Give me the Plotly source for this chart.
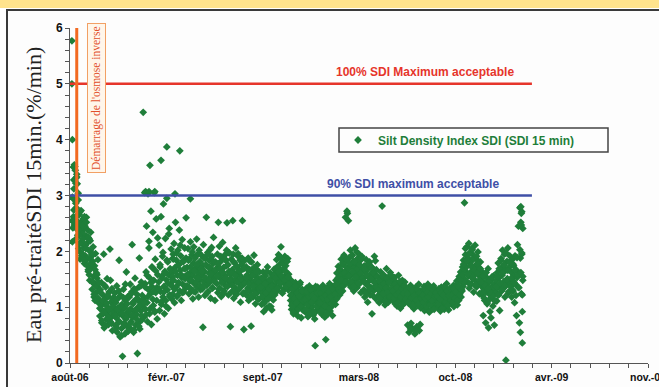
import pandas as pd
import plotly.graph_objects as go

# ---------------- data ----------------
# daily readings, one per day from each month's start date
sdi_2006_08 = [2.95, 2.62, 3.28, 2.47, 3.52, 2.21, 3.31, 2.78, 2.55, 3.21, 2.38, 2.92, 2.05, 2.66, 2.44,
               1.86, 2.51, 2.73, 2.18, 2.35, 1.95, 2.58, 2.12, 2.41, 1.78]
sdi_2006_09 = [2.45, 1.92, 2.28, 2.61, 1.75, 2.15, 2.38, 1.64, 2.02, 2.22, 1.48, 1.88, 2.34, 1.71, 1.95,
               1.32, 1.82, 2.08, 1.55, 1.18, 1.74, 1.42, 1.96, 1.26, 1.61, 1.13, 1.37, 1.85, 1.08, 1.29]
sdi_2006_10 = [1.12, 0.84, 1.31, 0.97, 1.44, 0.72, 1.05, 1.22, 0.88, 1.95, 0.63, 1.14, 0.93, 1.36, 0.78,
               1.02, 1.51, 0.86, 1.19, 0.69, 1.27, 0.95, 2.04, 0.74, 1.09, 0.82, 1.33, 0.58, 1.01, 1.17]
sdi_2006_11 = [0.92, 1.25, 0.67, 1.08, 0.81, 1.38, 0.55, 0.98, 1.16, 0.73, 1.84, 0.88, 0.47, 1.21, 0.94,
               0.62, 1.05, 0.12, 0.84, 1.32, 0.71, 0.99, 0.52, 1.12, 0.79, 1.63, 0.66, 0.91, 1.19, 0.58]
sdi_2006_12 = [0.86, 1.18, 0.63, 1.41, 0.97, 0.74, 1.27, 2.12, 0.82, 1.06, 0.55, 1.33, 0.91, 1.52, 0.68,
               1.14, 0.87, 1.23, 0.17, 0.99, 0.72, 1.36, 1.88, 0.61, 1.08, 0.93, 1.45, 0.77, 1.21, 1.02]
sdi_2007_01 = [1.15, 0.82, 3.05, 1.42, 0.96, 1.63, 2.45, 1.08, 0.74, 3.03, 1.31, 2.18, 0.88, 1.52, 1.24,
               2.72, 0.69, 1.37, 1.71, 2.34, 1.03, 1.48, 3.05, 0.91, 1.86, 1.26, 2.58, 1.12, 0.79, 1.58]
sdi_2007_02 = [1.45, 2.11, 0.94, 1.72, 1.28, 2.62, 1.05, 1.56, 1.91, 1.18, 2.85, 1.37, 0.88, 1.64, 2.23,
               1.12, 1.49, 2.95, 1.31, 1.81, 0.98, 1.58, 2.41, 1.22, 1.69, 1.41, 2.04, 1.15, 1.53, 1.87]
sdi_2007_03 = [1.62, 1.23, 1.95, 1.48, 2.14, 1.08, 1.71, 2.52, 1.36, 1.84, 1.19, 1.57, 2.02, 1.44, 1.77,
               2.38, 1.29, 1.66, 1.92, 1.12, 1.53, 2.21, 1.41, 1.83, 1.27, 1.69, 2.06, 1.51, 1.34, 1.88]
sdi_2007_04 = [1.71, 1.38, 2.05, 1.55, 1.24, 1.86, 1.47, 2.17, 1.63, 1.32, 1.94, 1.58, 1.15, 1.79, 2.08,
               1.42, 1.68, 1.27, 1.91, 1.53, 2.22, 1.36, 1.74, 1.61, 1.18, 1.97, 1.49, 1.82, 1.31, 1.66]
sdi_2007_05 = [1.58, 1.92, 1.33, 1.75, 2.12, 1.46, 1.64, 1.21, 1.87, 1.52, 2.61, 1.39, 1.73, 1.98, 1.28,
               1.61, 1.84, 1.44, 2.03, 1.16, 1.69, 1.55, 1.91, 1.35, 1.78, 2.25, 1.49, 1.63, 1.12, 1.81]
sdi_2007_06 = [1.67, 1.42, 1.95, 1.26, 1.73, 1.58, 2.09, 1.34, 1.81, 1.51, 1.19, 1.88, 1.62, 2.16, 1.45,
               1.71, 1.29, 1.93, 1.56, 1.38, 1.84, 2.02, 2.51, 1.48, 1.76, 1.22, 1.64, 1.97, 1.41, 1.59]
sdi_2007_07 = [1.52, 1.86, 1.28, 1.67, 1.44, 1.95, 1.16, 1.61, 1.79, 1.35, 2.06, 1.49, 1.23, 1.72, 1.58,
               1.91, 1.31, 1.65, 1.42, 1.84, 1.09, 1.55, 1.76, 1.38, 2.55, 1.47, 1.69, 1.26, 1.83, 1.51]
sdi_2007_08 = [1.46, 1.72, 1.21, 1.58, 1.34, 1.88, 1.12, 1.49, 1.67, 1.28, 1.54, 0.66, 1.81, 1.39, 1.62,
               1.18, 1.45, 1.93, 1.31, 1.57, 1.06, 1.69, 1.42, 1.25, 1.76, 1.36, 1.51, 1.14, 1.63, 1.32]
sdi_2007_09 = [1.28, 1.52, 1.05, 1.41, 1.19, 1.63, 0.92, 1.34, 1.47, 1.11, 1.56, 1.24, 0.98, 1.39, 1.72,
               1.16, 1.31, 1.48, 1.02, 1.27, 1.61, 1.21, 1.43, 0.95, 1.35, 1.54, 1.13, 1.29, 1.68, 1.22]
sdi_2007_10 = [1.38, 1.62, 1.47, 1.85, 1.29, 1.71, 1.53, 1.94, 1.36, 1.58, 1.77, 1.42, 2.08, 1.51, 1.66,
               1.25, 1.82, 1.45, 1.69, 1.33, 1.91, 1.56, 1.74, 1.39, 1.61, 1.48, 1.87, 1.31, 1.59, 1.43]
sdi_2007_11 = [1.35, 1.12, 1.48, 0.96, 1.24, 1.07, 1.39, 0.88, 1.18, 1.31, 1.02, 1.44, 0.92, 1.21, 1.09,
               1.36, 0.84, 1.15, 1.27, 0.99, 1.41, 1.05, 1.23, 0.81, 1.13, 1.32, 0.95, 1.19, 1.06, 1.28]
sdi_2007_12 = [1.08, 1.26, 0.91, 1.17, 1.34, 0.97, 1.12, 0.83, 1.22, 1.04, 1.38, 0.89, 1.15, 1.29, 0.94,
               1.19, 1.01, 1.33, 0.86, 1.11, 1.24, 0.79, 0.31, 1.09, 1.27, 0.93, 1.16, 1.36, 0.98, 1.21]
sdi_2008_01 = [1.14, 0.92, 1.31, 1.03, 1.22, 0.87, 1.18, 1.39, 0.96, 1.11, 1.27, 0.82, 1.07, 0.42, 1.24,
               0.99, 1.35, 1.13, 0.88, 1.19, 1.05, 1.42, 0.93, 1.16, 1.29, 1.01, 1.21, 0.85, 1.37, 1.09]
sdi_2008_02 = [1.12, 1.34, 1.05, 1.48, 1.26, 1.61, 1.19, 1.41, 1.73, 1.31, 1.55, 1.22, 1.67, 1.44, 1.86,
               1.37, 1.58, 1.29, 1.76, 1.51, 1.93, 1.42, 1.64, 2.61, 1.83, 1.47, 1.71, 2.68, 1.56]
sdi_2008_03 = [1.68, 1.42, 1.89, 1.55, 2.02, 1.36, 1.74, 1.61, 1.93, 1.47, 1.82, 1.29, 1.71, 1.58, 2.06,
               1.44, 1.79, 1.63, 1.35, 1.87, 1.52, 1.96, 1.41, 1.73, 1.59, 1.84, 1.26, 1.67, 1.91, 1.49]
sdi_2008_04 = [1.52, 1.31, 1.74, 1.18, 1.63, 1.42, 1.85, 1.27, 1.56, 1.09, 1.69, 1.38, 1.47, 1.81, 1.22,
               1.59, 1.35, 1.72, 0.88, 1.49, 1.64, 1.29, 1.53, 1.91, 1.37, 1.58, 1.15, 1.67, 1.43, 1.33]
sdi_2008_05 = [1.36, 1.21, 1.52, 1.08, 1.44, 1.29, 1.63, 1.17, 1.39, 2.81, 1.25, 1.48, 1.12, 1.57, 1.33,
               1.04, 1.41, 1.26, 1.69, 1.19, 1.35, 1.51, 1.09, 1.28, 1.45, 1.15, 1.62, 1.31, 1.22, 1.47]
sdi_2008_06 = [1.24, 1.39, 1.11, 1.32, 1.53, 1.06, 1.27, 1.18, 1.44, 1.02, 1.35, 1.21, 1.57, 1.13, 1.29,
               1.42, 0.98, 1.23, 1.36, 1.14, 1.48, 1.26, 1.07, 1.31, 1.19, 1.45, 1.09, 1.34, 1.22, 1.16]
sdi_2008_07 = [1.18, 0.68, 1.31, 1.07, 0.55, 1.24, 1.12, 1.39, 0.71, 1.02, 1.27, 0.62, 1.15, 1.33, 0.97,
               1.21, 0.52, 1.09, 1.36, 1.14, 0.65, 1.26, 1.03, 1.19, 1.41, 0.58, 1.11, 1.29, 0.99, 1.22]
sdi_2008_08 = [1.16, 1.28, 1.03, 1.21, 1.37, 0.94, 1.12, 1.25, 1.07, 1.32, 0.98, 1.19, 1.41, 1.09, 1.23,
               0.91, 1.14, 1.29, 1.05, 1.35, 1.17, 0.97, 1.26, 1.11, 1.38, 1.01, 1.22, 1.13, 1.31, 1.06]
sdi_2008_09 = [1.12, 1.27, 0.99, 1.18, 1.33, 1.04, 1.21, 0.93, 1.15, 1.36, 1.08, 1.24, 1.02, 1.29, 1.11,
               0.96, 1.19, 1.34, 1.07, 1.23, 1.42, 1.01, 1.16, 1.28, 0.95, 1.13, 1.31, 1.09, 1.25, 1.18]
sdi_2008_10 = [1.14, 1.31, 1.06, 1.22, 1.39, 1.01, 1.17, 1.28, 1.09, 1.35, 1.19, 1.47, 1.04, 1.26, 1.38,
               1.12, 1.55, 1.24, 1.33, 1.63, 1.18, 1.45, 1.29, 1.72, 1.37, 1.84, 1.51, 2.87, 1.66, 1.94]
sdi_2008_11 = [1.72, 2.08, 1.45, 1.88, 1.56, 2.14, 1.34, 1.79, 1.62, 1.97, 1.41, 1.83, 2.03, 1.51, 1.69,
               1.27, 1.92, 1.58, 2.11, 1.47, 1.76, 1.36, 1.85, 1.64, 1.99, 1.43, 1.71, 1.24, 1.55, 1.81]
sdi_2008_12 = [1.52, 1.38, 1.64, 1.21, 1.47, 0.85, 1.33, 1.58, 1.12, 1.41, 0.72, 1.27, 1.53, 1.06, 1.36,
               1.69, 0.63, 1.24, 1.45, 1.15, 1.31, 0.81, 1.49, 1.18, 1.37, 1.02, 1.56, 1.29, 0.68, 1.42]
sdi_2009_01 = [1.26, 1.48, 1.11, 1.62, 1.35, 1.79, 1.22, 1.53, 0.94, 1.68, 1.41, 1.87, 1.29, 1.57, 2.02,
               1.33, 1.74, 1.46, 1.95, 1.18, 1.66, 0.05, 1.39, 1.82, 1.51, 2.06, 1.25, 1.71, 1.44, 1.92]
sdi_2009_02 = [1.37, 1.63, 1.18, 1.85, 1.47, 1.29, 1.74, 1.56, 1.08, 1.92, 1.41, 1.67, 0.85, 1.53, 2.12,
               1.36, 2.45, 1.61, 0.72, 2.78, 1.88, 2.52, 1.24, 2.71, 0.36, 1.48]

monthly_series = [
    ("2006-08-07", sdi_2006_08), ("2006-09-01", sdi_2006_09), ("2006-10-01", sdi_2006_10),
    ("2006-11-01", sdi_2006_11), ("2006-12-01", sdi_2006_12), ("2007-01-01", sdi_2007_01),
    ("2007-02-01", sdi_2007_02), ("2007-03-01", sdi_2007_03), ("2007-04-01", sdi_2007_04),
    ("2007-05-01", sdi_2007_05), ("2007-06-01", sdi_2007_06), ("2007-07-01", sdi_2007_07),
    ("2007-08-01", sdi_2007_08), ("2007-09-01", sdi_2007_09), ("2007-10-01", sdi_2007_10),
    ("2007-11-01", sdi_2007_11), ("2007-12-01", sdi_2007_12), ("2008-01-01", sdi_2008_01),
    ("2008-02-01", sdi_2008_02), ("2008-03-01", sdi_2008_03), ("2008-04-01", sdi_2008_04),
    ("2008-05-01", sdi_2008_05), ("2008-06-01", sdi_2008_06), ("2008-07-01", sdi_2008_07),
    ("2008-08-01", sdi_2008_08), ("2008-09-01", sdi_2008_09), ("2008-10-01", sdi_2008_10),
    ("2008-11-01", sdi_2008_11), ("2008-12-01", sdi_2008_12), ("2009-01-01", sdi_2009_01),
    ("2009-02-01", sdi_2009_02),
]

# second reading, every other day (day 2i+1 of each month)
sdi2_2006_08 = [3.12, 2.58, 2.86, 3.38, 2.29, 2.67, 2.14, 2.49, 1.92, 2.31, 2.06, 2.62]
sdi2_2006_09 = [2.11, 2.52, 1.86, 2.25, 1.58, 2.01, 1.79, 1.46, 1.94, 1.23, 1.67, 1.38, 1.52, 1.16, 1.44]
sdi2_2006_10 = [0.98, 1.26, 0.76, 1.11, 0.91, 1.39, 0.67, 1.07, 1.22, 0.81, 0.95, 1.48, 0.71, 1.15, 0.89]
sdi2_2006_11 = [0.85, 1.14, 0.63, 0.96, 1.29, 0.74, 1.02, 0.49, 0.88, 1.17, 0.69, 1.41, 0.82, 1.06, 0.57]
sdi2_2006_12 = [0.94, 0.71, 1.24, 0.85, 1.09, 0.59, 1.31, 0.96, 0.78, 1.15, 0.66, 1.03, 1.38, 0.84, 1.12]
sdi2_2007_01 = [1.08, 1.36, 0.87, 1.57, 1.19, 2.06, 0.97, 1.44, 1.72, 1.14, 1.28, 0.93, 1.65, 1.35, 2.24]
sdi2_2007_02 = [1.33, 1.76, 1.09, 1.52, 1.98, 1.27, 1.61, 1.02, 1.84, 1.43, 2.31, 1.19, 1.67, 1.38, 1.55]
sdi2_2007_03 = [1.49, 1.86, 1.32, 1.64, 1.97, 1.21, 1.75, 1.43, 2.11, 1.58, 1.26, 1.81, 1.54, 1.69, 1.38]
sdi2_2007_04 = [1.59, 1.84, 1.35, 1.72, 1.48, 1.99, 1.29, 1.65, 1.88, 1.44, 1.77, 1.52, 2.02, 1.39, 1.69]
sdi2_2007_05 = [1.64, 1.37, 1.89, 1.53, 1.76, 1.25, 1.95, 1.48, 1.71, 1.59, 2.07, 1.34, 1.82, 1.46, 1.67]
sdi2_2007_06 = [1.55, 1.78, 1.32, 1.69, 1.91, 1.44, 1.63, 1.25, 1.86, 1.52, 1.74, 1.37, 1.98, 1.61, 1.47]
sdi2_2007_07 = [1.61, 1.39, 1.82, 1.27, 1.57, 1.73, 1.45, 1.96, 1.33, 1.64, 1.51, 1.88, 1.24, 1.69, 1.43]
sdi2_2007_08 = [1.53, 1.29, 1.66, 1.41, 1.82, 1.19, 1.56, 1.37, 1.71, 1.24, 1.48, 1.63, 1.15, 1.44, 1.35]
sdi2_2007_09 = [1.36, 1.19, 1.51, 1.07, 1.42, 1.26, 1.64, 1.14, 1.33, 1.49, 1.01, 1.38, 1.23, 1.57, 1.31]
sdi2_2007_10 = [1.52, 1.71, 1.34, 1.63, 1.44, 1.89, 1.56, 1.28, 1.77, 1.49, 1.65, 1.37, 1.82, 1.54, 1.41]
sdi2_2007_11 = [1.21, 1.03, 1.33, 0.91, 1.16, 1.38, 1.08, 1.26, 0.97, 1.19, 1.44, 1.01, 1.29, 1.12, 0.94]
sdi2_2007_12 = [1.13, 0.96, 1.28, 1.05, 1.19, 0.88, 1.31, 1.09, 1.22, 0.92, 1.16, 1.37, 1.02, 1.25, 1.07]
sdi2_2008_01 = [1.07, 1.25, 0.94, 1.17, 1.32, 1.02, 1.21, 0.89, 1.14, 1.28, 0.98, 1.19, 1.06, 1.33, 1.11]
sdi2_2008_02 = [1.23, 1.41, 1.15, 1.52, 1.33, 1.68, 1.27, 1.49, 1.79, 1.38, 1.61, 1.45, 1.85, 1.56]
sdi2_2008_03 = [1.57, 1.78, 1.46, 1.92, 1.63, 1.38, 1.81, 1.54, 1.99, 1.69, 1.43, 1.76, 1.61, 1.88, 1.52]
sdi2_2008_04 = [1.46, 1.67, 1.25, 1.58, 1.39, 1.78, 1.32, 1.51, 1.71, 1.21, 1.62, 1.44, 1.83, 1.36, 1.55]
sdi2_2008_05 = [1.31, 1.47, 1.16, 1.38, 1.56, 1.24, 1.42, 1.11, 1.35, 1.52, 1.27, 1.44, 1.19, 1.58, 1.33]
sdi2_2008_06 = [1.29, 1.16, 1.41, 1.22, 1.35, 1.08, 1.27, 1.46, 1.19, 1.33, 1.04, 1.25, 1.38, 1.15, 1.31]
sdi2_2008_07 = [1.24, 1.09, 1.35, 0.61, 1.17, 1.29, 1.03, 1.21, 0.57, 1.13, 1.32, 1.06, 1.25, 0.69, 1.16]
sdi2_2008_08 = [1.21, 1.09, 1.33, 1.15, 1.02, 1.27, 1.18, 1.36, 1.05, 1.24, 1.12, 1.31, 0.96, 1.19, 1.26]
sdi2_2008_09 = [1.19, 1.05, 1.31, 1.14, 1.26, 0.98, 1.22, 1.37, 1.09, 1.17, 1.29, 1.03, 1.21, 1.34, 1.12]
sdi2_2008_10 = [1.21, 1.09, 1.33, 1.16, 1.27, 1.41, 1.13, 1.36, 1.22, 1.49, 1.31, 1.58, 1.77, 1.44, 2.05]
sdi2_2008_11 = [1.83, 1.59, 1.96, 1.42, 1.74, 2.05, 1.53, 1.87, 1.66, 1.39, 1.91, 1.61, 1.78, 1.48, 1.69]
sdi2_2008_12 = [1.44, 1.27, 1.56, 1.16, 1.39, 1.62, 1.08, 1.33, 1.47, 0.92, 1.25, 1.54, 1.19, 1.36, 1.11]
sdi2_2009_01 = [1.37, 1.55, 1.22, 1.69, 1.43, 1.84, 1.31, 1.61, 1.76, 1.38, 1.97, 1.49, 1.66, 1.28, 1.81]
sdi2_2009_02 = [1.52, 1.31, 1.77, 1.44, 1.66, 1.21, 1.89, 1.58, 1.35, 2.03, 1.62, 1.95, 2.41]

second_series = [
    ("2006-08-08", sdi2_2006_08), ("2006-09-01", sdi2_2006_09), ("2006-10-01", sdi2_2006_10),
    ("2006-11-01", sdi2_2006_11), ("2006-12-01", sdi2_2006_12), ("2007-01-01", sdi2_2007_01),
    ("2007-02-01", sdi2_2007_02), ("2007-03-01", sdi2_2007_03), ("2007-04-01", sdi2_2007_04),
    ("2007-05-01", sdi2_2007_05), ("2007-06-01", sdi2_2007_06), ("2007-07-01", sdi2_2007_07),
    ("2007-08-01", sdi2_2007_08), ("2007-09-01", sdi2_2007_09), ("2007-10-01", sdi2_2007_10),
    ("2007-11-01", sdi2_2007_11), ("2007-12-01", sdi2_2007_12), ("2008-01-01", sdi2_2008_01),
    ("2008-02-01", sdi2_2008_02), ("2008-03-01", sdi2_2008_03), ("2008-04-01", sdi2_2008_04),
    ("2008-05-01", sdi2_2008_05), ("2008-06-01", sdi2_2008_06), ("2008-07-01", sdi2_2008_07),
    ("2008-08-01", sdi2_2008_08), ("2008-09-01", sdi2_2008_09), ("2008-10-01", sdi2_2008_10),
    ("2008-11-01", sdi2_2008_11), ("2008-12-01", sdi2_2008_12), ("2009-01-01", sdi2_2009_01),
    ("2009-02-01", sdi2_2009_02),
]

extra_dates = ["2006-08-05", "2006-08-05", "2006-08-06", "2006-08-06", "2006-08-05", "2006-08-06",
               "2006-08-07", "2006-08-08", "2006-08-09", "2006-08-10", "2006-08-11", "2006-08-12",
               "2006-08-12", "2006-08-13", "2006-08-14", "2006-08-15", "2006-08-16", "2006-08-18",
               "2006-08-20", "2006-08-22", "2006-08-24", "2006-08-26", "2006-08-28", "2006-08-30",
               "2006-09-03", "2006-09-08", "2006-09-12", "2006-09-17", "2006-09-22", "2006-09-26",
               "2006-12-31", "2007-01-14", "2007-02-06", "2007-02-18", "2007-03-17", "2007-01-05",
               "2007-01-12", "2007-01-24", "2007-03-07", "2007-04-08", "2007-05-04", "2007-06-30",
               "2007-07-28", "2007-03-30", "2007-06-05", "2007-07-05", "2008-02-27", "2008-03-01",
               "2009-02-22", "2009-02-23", "2009-02-23", "2009-02-24", "2009-02-25", "2009-02-25",
               "2009-02-26", "2009-02-21"]
extra_values = [5.77, 5.00, 4.00, 2.97, 2.55, 2.17,
                2.42, 3.51, 2.74, 3.55, 3.27, 3.45,
                2.51, 3.22, 2.89, 3.33, 2.64, 3.04,
                2.28, 2.71, 1.97, 2.47, 2.22, 1.84,
                2.05, 1.67, 2.19, 1.44, 1.12, 1.58,
                4.49, 3.54, 3.63, 3.87, 3.80, 3.07,
                3.07, 3.07, 3.03, 2.94, 0.64, 0.65,
                0.60, 2.60, 2.52, 2.55, 2.72, 2.55,
                2.80, 2.68, 2.47, 1.97, 1.22, 0.92,
                1.55, 0.55]

limit_100_value = 5.0
limit_90_value = 3.0
limit_end_date = "2009-03-17"
ro_start_date = "2006-08-15"

x_start = "2006-08-01"
major_step_days = 200
minor_step_days = 40
tick_labels = ["août-06", "févr.-07", "sept.-07", "mars-08", "oct.-08", "avr.-09", "nov.-09"]
y_ticks = [0, 1, 2, 3, 4, 5, 6]

# ---------------- build ----------------
xs, ys = [], []
for start, vals in monthly_series:
    d0 = pd.Timestamp(start)
    for i, v in enumerate(vals):
        xs.append(d0 + pd.Timedelta(days=i))
        ys.append(v)
for start, vals in second_series:
    d0 = pd.Timestamp(start)
    for i, v in enumerate(vals):
        xs.append(d0 + pd.Timedelta(days=2 * i + 1))
        ys.append(v)
for d, v in zip(extra_dates, extra_values):
    xs.append(pd.Timestamp(d))
    ys.append(v)

x0 = pd.Timestamp(x_start)
major_vals = [x0 + pd.Timedelta(days=major_step_days * k) for k in range(len(tick_labels))]
minor_vals = [x0 + pd.Timedelta(days=minor_step_days * k)
              for k in range(int(major_step_days * (len(tick_labels) - 1) / minor_step_days) + 1)]
x_end = major_vals[-1]

W, H = 659, 387
ML, MR, MT, MB = 70, 11, 28, 24
PW, PH = W - ML - MR, H - MT - MB


def px(xp):
    return (xp - ML) / PW


def py(yp):
    return (H - MB - yp) / PH


GREEN = "#1F7E3A"
RED = "#E6352B"
BLUE = "#3F4FA6"
ORANGE = "#F26A22"
FONT = "Arial, Liberation Sans, sans-serif"
SERIF = "Times New Roman, Liberation Serif, serif"

fig = go.Figure()
fig.add_trace(go.Scatter(
    x=xs, y=ys, mode="markers",
    name="Silt Density Index SDI (SDI 15 min)",
    marker=dict(symbol="diamond", size=6, color=GREEN, line=dict(width=0)),
))

shapes = [
    dict(type="rect", xref="paper", yref="paper", x0=px(-5), x1=px(W + 5), y0=py(8), y1=py(-5),
         fillcolor="#FFE38C", line=dict(width=0), layer="below"),
    dict(type="rect", xref="paper", yref="paper", x0=px(7), x1=px(W + 20), y0=py(H + 20), y1=py(10),
         fillcolor="#FDFDFD", line=dict(color="#3A3A3A", width=2), layer="below"),
    dict(type="line", xref="x", yref="y", x0=x0, x1=limit_end_date, y0=limit_100_value, y1=limit_100_value,
         line=dict(color=RED, width=2.5)),
    dict(type="line", xref="x", yref="y", x0=x0, x1=limit_end_date, y0=limit_90_value, y1=limit_90_value,
         line=dict(color=BLUE, width=2.5)),
    dict(type="line", xref="x", yref="y", x0=ro_start_date, x1=ro_start_date, y0=0, y1=6,
         line=dict(color=ORANGE, width=3)),
    dict(type="rect", xref="paper", yref="paper", x0=px(339), x1=px(608), y0=py(152), y1=py(128),
         fillcolor="rgba(0,0,0,0)", line=dict(color="#444444", width=1.5)),
]

annotations = [
    dict(text="100% SDI Maximum acceptable", xref="paper", yref="paper", x=px(425), y=py(72),
         xanchor="center", yanchor="middle", showarrow=False,
         font=dict(family=FONT, size=12, color=RED, weight="bold")),
    dict(text="90% SDI maximum acceptable", xref="paper", yref="paper", x=px(413), y=py(184),
         xanchor="center", yanchor="middle", showarrow=False,
         font=dict(family=FONT, size=12, color=BLUE, weight="bold")),
    dict(text="Eau pré-traitéSDI 15min.(%/min)", xref="paper", yref="paper", x=px(33), y=py(195),
         xanchor="center", yanchor="middle", textangle=-90, showarrow=False,
         font=dict(family=SERIF, size=22, color="#222222")),
    dict(text="Démarrage de l'osmose inverse", xref="paper", yref="paper", x=px(96), y=py(98),
         xanchor="center", yanchor="middle", textangle=-90, showarrow=False,
         font=dict(family=SERIF, size=11.5, color="#E2502A"),
         bgcolor="#FFF6EA", bordercolor="#F2A064", borderwidth=1, borderpad=2),
]

fig.update_layout(
    width=W, height=H,
    margin=dict(l=ML, r=MR, t=MT, b=MB, autoexpand=False),
    paper_bgcolor="white", plot_bgcolor="rgba(0,0,0,0)",
    shapes=shapes, annotations=annotations,
    showlegend=True,
    legend=dict(x=px(338), y=py(140), xanchor="left", yanchor="middle",
                bgcolor="rgba(0,0,0,0)", borderwidth=0,
                font=dict(family=FONT, size=12, color=GREEN, weight="bold"),
                itemwidth=30),
    xaxis=dict(
        type="date", range=[x0, x_end], showgrid=False, zeroline=False,
        showline=True, linecolor="#555555", linewidth=1,
        tickmode="array", tickvals=major_vals, ticktext=tick_labels,
        ticks="outside", ticklen=4, tickcolor="#555555",
        ticklabeloverflow="allow",
        tickfont=dict(family=FONT, size=10.5, color="#111111", weight="bold"),
        minor=dict(tickvals=minor_vals, ticks="outside", ticklen=4, tickcolor="#555555"),
        automargin=False,
    ),
    yaxis=dict(
        range=[0, 6], showgrid=False, zeroline=False,
        showline=True, linecolor="#555555", linewidth=1,
        tickmode="array", tickvals=y_ticks,
        ticks="outside", ticklen=4, tickcolor="#555555",
        tickfont=dict(family=FONT, size=12, color="#111111", weight="bold"),
        minor=dict(dtick=0.2, ticks="outside", ticklen=4, tickcolor="#555555"),
        automargin=False,
    ),
)

fig.write_html("out.html", config={"displayModeBar": False},
               post_script="document.body.style.margin='0px';")
